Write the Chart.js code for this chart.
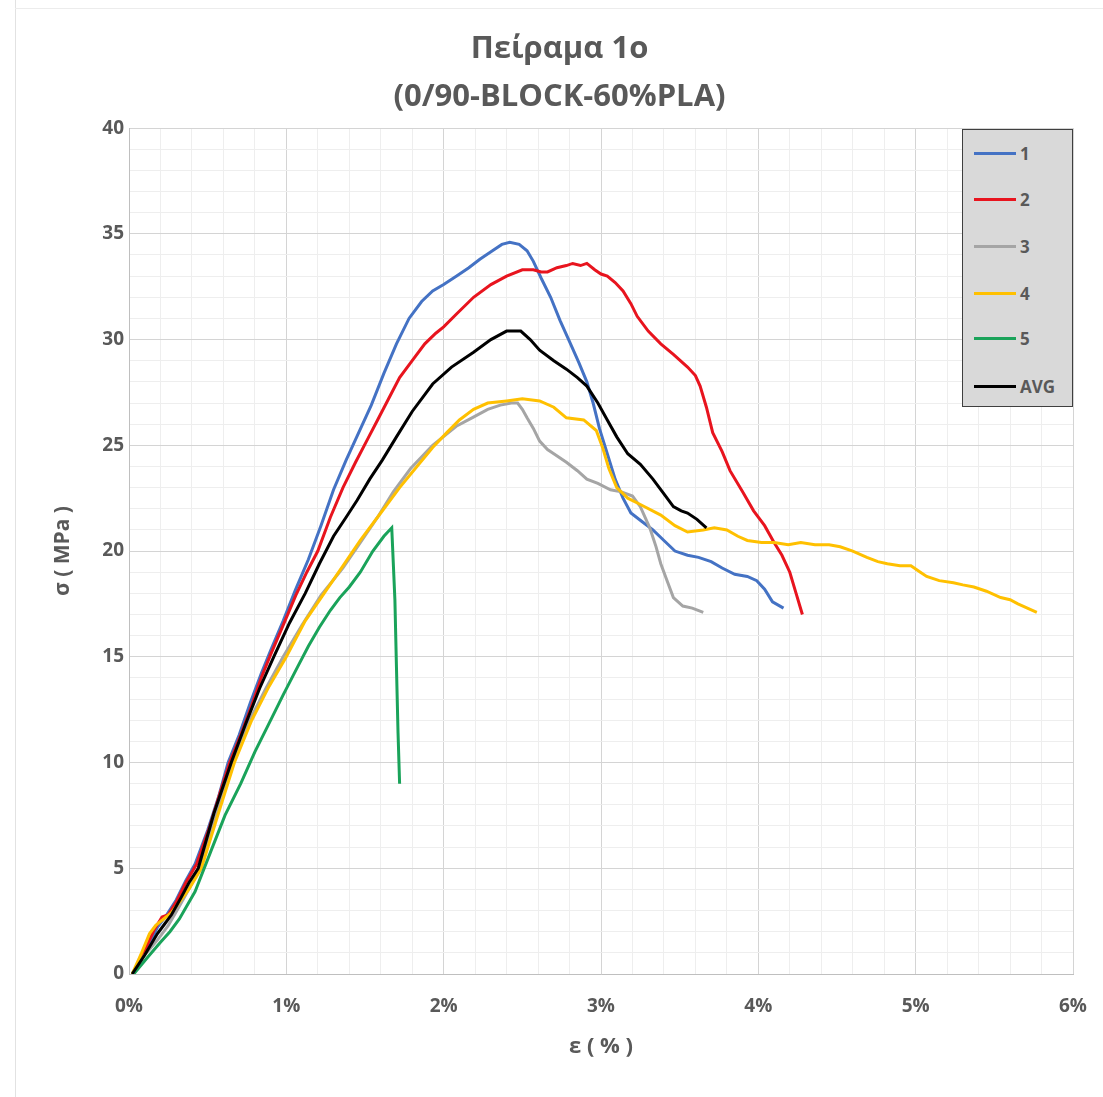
<!DOCTYPE html>
<html lang="el">
<head>
    <meta charset="UTF-8">
    <title>Πείραμα 1ο</title>
    <script src="https://cdn.jsdelivr.net/npm/chart.js"></script>
    <style>
        body { margin: 0; background: #fff; }
        #wrap { position: relative; width: 1103px; height: 1097px; }
        #edgeLeft { position: absolute; left: 15px; top: 0; width: 0; height: 1097px; border-left: 1px solid #e2e2e2; }
        #edgeTop { position: absolute; left: 15px; top: 8px; width: 1088px; height: 0; border-top: 1px solid #ececec; }
        #legendBox {
            position: absolute; left: 962px; top: 129px; width: 109px; height: 276px;
            background: #d9d9d9; border: 1.5px solid #3f3f3f;
            font-family: 'Open Sans', sans-serif; font-weight: bold; font-size: 17px; color: #595959;
        }
        .legend-item { position: absolute; left: 0; height: 20px; display: flex; align-items: center; }
        .legend-line { width: 42px; height: 3px; margin-left: 11px; margin-right: 4px; }
    </style>
</head>
<body>
<div id="wrap">
    <div id="edgeLeft"></div>
    <div id="edgeTop"></div>
    <canvas id="chart"></canvas>
    <div id="legendBox"></div>
</div>
<script>
    // strain (%) / stress (MPa)
    const strain1 = [0.02, 0.10, 0.18, 0.24, 0.30, 0.36, 0.42, 0.50, 0.57, 0.63, 0.70, 0.77, 0.84, 0.90, 0.98, 1.06, 1.14, 1.22, 1.30, 1.38, 1.46, 1.54, 1.62, 1.70, 1.78, 1.86, 1.93, 2.00, 2.08, 2.16, 2.23, 2.31, 2.37, 2.42, 2.48, 2.53, 2.57, 2.62, 2.68, 2.74, 2.80, 2.86, 2.91, 2.95, 2.99, 3.04, 3.09, 3.14, 3.19, 3.26, 3.33, 3.40, 3.47, 3.55, 3.62, 3.70, 3.77, 3.85, 3.93, 3.99, 4.04, 4.09, 4.16];
    const stress1 = [0, 1.0, 2.2, 2.8, 3.5, 4.4, 5.2, 6.8, 8.4, 10.0, 11.3, 12.8, 14.2, 15.3, 16.7, 18.2, 19.6, 21.2, 22.9, 24.3, 25.6, 26.9, 28.4, 29.8, 31.0, 31.8, 32.3, 32.6, 33.0, 33.4, 33.8, 34.2, 34.5, 34.6, 34.5, 34.2, 33.7, 32.9, 32.0, 30.9, 29.9, 28.9, 28.0, 27.0, 25.8, 24.6, 23.4, 22.5, 21.8, 21.4, 21.0, 20.5, 20.0, 19.8, 19.7, 19.5, 19.2, 18.9, 18.8, 18.6, 18.2, 17.6, 17.3];

    const strain2 = [0.03, 0.10, 0.16, 0.21, 0.25, 0.30, 0.36, 0.43, 0.51, 0.58, 0.64, 0.71, 0.78, 0.84, 0.90, 0.98, 1.06, 1.13, 1.20, 1.28, 1.36, 1.44, 1.51, 1.58, 1.65, 1.72, 1.80, 1.88, 1.95, 2.00, 2.08, 2.19, 2.30, 2.40, 2.50, 2.57, 2.62, 2.66, 2.72, 2.78, 2.82, 2.87, 2.91, 2.96, 3.00, 3.04, 3.09, 3.14, 3.19, 3.23, 3.30, 3.38, 3.46, 3.55, 3.60, 3.63, 3.67, 3.71, 3.77, 3.82, 3.90, 3.97, 4.04, 4.10, 4.15, 4.20, 4.24, 4.28];
    const stress2 = [0, 1.1, 2.1, 2.7, 2.8, 3.4, 4.3, 5.2, 6.9, 8.6, 10.0, 11.3, 12.7, 14.0, 15.1, 16.5, 17.9, 19.0, 20.0, 21.6, 23.0, 24.2, 25.2, 26.2, 27.2, 28.2, 29.0, 29.8, 30.3, 30.6, 31.2, 32.0, 32.6, 33.0, 33.3, 33.3, 33.2, 33.2, 33.4, 33.5, 33.6, 33.5, 33.6, 33.3, 33.1, 33.0, 32.7, 32.3, 31.7, 31.1, 30.4, 29.8, 29.3, 28.7, 28.3, 27.8, 26.8, 25.6, 24.7, 23.8, 22.8, 21.9, 21.2, 20.4, 19.8, 19.0, 18.0, 17.0];

    const strain3 = [0.02, 0.10, 0.18, 0.25, 0.32, 0.38, 0.45, 0.55, 0.66, 0.76, 0.87, 0.98, 1.10, 1.22, 1.36, 1.47, 1.58, 1.68, 1.79, 1.93, 2.08, 2.18, 2.28, 2.36, 2.43, 2.47, 2.50, 2.53, 2.57, 2.61, 2.66, 2.70, 2.78, 2.85, 2.91, 2.98, 3.06, 3.13, 3.20, 3.25, 3.31, 3.35, 3.38, 3.42, 3.46, 3.52, 3.58, 3.65];
    const stress3 = [0, 0.9, 1.6, 2.3, 3.2, 4.0, 5.0, 7.4, 10.0, 11.9, 13.5, 15.0, 16.5, 17.9, 19.2, 20.4, 21.6, 22.8, 23.9, 25.0, 25.9, 26.3, 26.7, 26.9, 27.0, 27.0, 26.7, 26.3, 25.8, 25.2, 24.8, 24.6, 24.2, 23.8, 23.4, 23.2, 22.9, 22.8, 22.6, 22.1, 21.1, 20.2, 19.4, 18.6, 17.8, 17.4, 17.3, 17.1];

    const strain4 = [0.02, 0.08, 0.13, 0.17, 0.22, 0.27, 0.30, 0.38, 0.46, 0.56, 0.67, 0.78, 0.89, 1.00, 1.12, 1.24, 1.36, 1.47, 1.60, 1.72, 1.83, 1.93, 2.02, 2.10, 2.19, 2.28, 2.40, 2.50, 2.61, 2.70, 2.78, 2.89, 2.97, 3.01, 3.05, 3.10, 3.17, 3.25, 3.38, 3.47, 3.55, 3.65, 3.72, 3.80, 3.87, 3.93, 4.02, 4.10, 4.19, 4.27, 4.36, 4.45, 4.52, 4.60, 4.69, 4.76, 4.82, 4.90, 4.97, 5.03, 5.07, 5.15, 5.24, 5.30, 5.37, 5.45, 5.54, 5.60, 5.65, 5.71, 5.77];
    const stress4 = [0, 1.0, 1.9, 2.3, 2.6, 2.9, 3.2, 4.0, 5.0, 7.4, 10.0, 12.0, 13.6, 15.0, 16.7, 18.0, 19.3, 20.5, 21.8, 23.0, 24.0, 24.9, 25.6, 26.2, 26.7, 27.0, 27.1, 27.2, 27.1, 26.8, 26.3, 26.2, 25.7, 24.9, 23.9, 23.0, 22.5, 22.2, 21.7, 21.2, 20.9, 21.0, 21.1, 21.0, 20.7, 20.5, 20.4, 20.4, 20.3, 20.4, 20.3, 20.3, 20.2, 20.0, 19.7, 19.5, 19.4, 19.3, 19.3, 19.0, 18.8, 18.6, 18.5, 18.4, 18.3, 18.1, 17.8, 17.7, 17.5, 17.3, 17.1];

    const strain5 = [0.03, 0.12, 0.20, 0.26, 0.32, 0.42, 0.52, 0.61, 0.71, 0.80, 0.88, 0.98, 1.07, 1.14, 1.21, 1.28, 1.34, 1.40, 1.47, 1.55, 1.62, 1.67, 1.69, 1.70, 1.71, 1.72];
    const stress5 = [0, 0.8, 1.5, 2.0, 2.6, 3.9, 5.8, 7.5, 9.0, 10.5, 11.7, 13.2, 14.5, 15.5, 16.4, 17.2, 17.8, 18.3, 19.0, 20.0, 20.7, 21.1, 17.7, 14.5, 11.4, 9.0];

    const strainAvg = [0.02, 0.10, 0.18, 0.23, 0.27, 0.33, 0.38, 0.44, 0.54, 0.65, 0.74, 0.83, 0.92, 1.02, 1.12, 1.21, 1.30, 1.38, 1.45, 1.53, 1.61, 1.70, 1.80, 1.93, 2.05, 2.19, 2.30, 2.40, 2.49, 2.55, 2.61, 2.70, 2.78, 2.85, 2.91, 2.98, 3.04, 3.10, 3.17, 3.25, 3.33, 3.40, 3.46, 3.51, 3.55, 3.61, 3.67];
    const stressAvg = [0, 0.9, 1.9, 2.4, 2.8, 3.6, 4.3, 5.0, 7.6, 10.0, 11.8, 13.5, 15.0, 16.6, 18.0, 19.4, 20.7, 21.6, 22.4, 23.4, 24.3, 25.4, 26.6, 27.9, 28.7, 29.4, 30.0, 30.4, 30.4, 30.0, 29.5, 29.0, 28.6, 28.2, 27.8, 27.0, 26.2, 25.4, 24.6, 24.1, 23.4, 22.7, 22.1, 21.9, 21.8, 21.5, 21.1];

    const seriesNames = ['1', '2', '3', '4', '5', 'AVG'];
    const seriesColors = ['#4472C4', '#E8141E', '#A5A5A5', '#FFC000', '#1AA35A', '#000000'];
    const strains = [strain1, strain2, strain3, strain4, strain5, strainAvg];
    const stresses = [stress1, stress2, stress3, stress4, stress5, stressAvg];

    const textColor = '#595959';
    Chart.defaults.font.family = "'Open Sans', sans-serif";

    // later series on top, like the original
    const datasets = seriesNames.map((name, i) => ({
        label: name,
        data: strains[i].map((x, j) => ({ x: x, y: stresses[i][j] })),
        borderColor: seriesColors[i],
        backgroundColor: seriesColors[i],
        borderWidth: 3,
        pointRadius: 0,
        tension: 0,
        order: seriesNames.length - i
    }));

    const isWhole = v => Math.abs(v - Math.round(v)) < 1e-6;

    new Chart(document.getElementById('chart'), {
        type: 'line',
        data: { datasets: datasets },
        options: {
            responsive: true,
            maintainAspectRatio: false,
            animation: false,
            layout: { padding: { left: 46, right: 30, top: 0, bottom: 23 } },
            plugins: {
                legend: { display: false },
                tooltip: { enabled: false },
                title: {
                    display: true,
                    text: ['Πείραμα 1ο', '(0/90-BLOCK-60%PLA)'],
                    color: textColor,
                    font: { size: 31, weight: 'bold', lineHeight: 1.55 },
                    padding: { top: 25, bottom: 7 }
                }
            },
            scales: {
                x: {
                    type: 'linear',
                    min: 0,
                    max: 6,
                    afterFit: s => { s.height = 100; },
                    ticks: {
                        stepSize: 0.2,
                        autoSkip: false,
                        maxRotation: 0,
                        padding: 3,
                        color: textColor,
                        font: { size: 19, weight: 'bold' },
                        callback: v => isWhole(v) ? Math.round(v) + '%' : ''
                    },
                    grid: {
                        drawTicks: true,
                        tickLength: 18,
                        tickColor: 'rgba(0,0,0,0)',
                        color: ctx => (ctx.tick && isWhole(ctx.tick.value)) ? '#d4d4d4' : '#eeeeee'
                    },
                    border: { color: '#bfbfbf' },
                    title: {
                        display: true,
                        text: 'ε ( % )',
                        color: textColor,
                        font: { size: 22, weight: 'bold' },
                        padding: { top: 4, bottom: 14 }
                    }
                },
                y: {
                    min: 0,
                    max: 40,
                    afterFit: s => { s.width = 83; },
                    ticks: {
                        stepSize: 1,
                        autoSkip: false,
                        padding: 5,
                        color: textColor,
                        font: { size: 19, weight: 'bold' },
                        callback: v => v % 5 === 0 ? v : ''
                    },
                    grid: {
                        drawTicks: false,
                        color: ctx => (ctx.tick && ctx.tick.value % 5 === 0) ? '#d4d4d4' : '#eeeeee'
                    },
                    border: { color: '#bfbfbf' },
                    title: {
                        display: true,
                        text: 'σ ( MPa )',
                        color: textColor,
                        font: { size: 21, weight: 'bold' },
                        padding: { top: 4, bottom: 4 }
                    }
                }
            }
        }
    });

    // legend box inside the plot, as in the original
    const legendBox = document.getElementById('legendBox');
    const rowTops = [13, 59, 106, 153, 198, 246];
    seriesNames.forEach((name, i) => {
        const item = document.createElement('div');
        item.className = 'legend-item';
        item.style.top = rowTops[i] + 'px';
        item.innerHTML = `<span class="legend-line" style="background:${seriesColors[i]}"></span><span>${name}</span>`;
        legendBox.appendChild(item);
    });
</script>
</body>
</html>
